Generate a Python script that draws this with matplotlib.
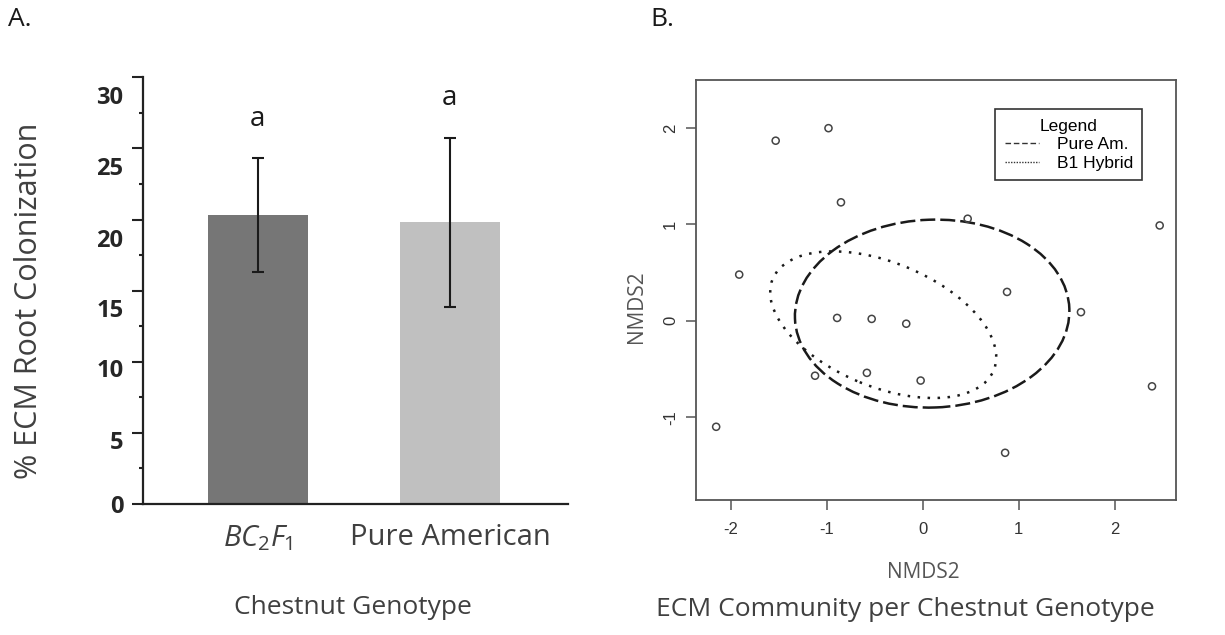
import numpy as np
import matplotlib
matplotlib.use("Agg")
import matplotlib.pyplot as plt
from matplotlib.patches import Ellipse
from matplotlib.lines import Line2D
from matplotlib.transforms import ScaledTranslation

# dati pannello A
genotipi = [r"$BC_2F_1$", "Pure American"]
colonizzazione = [20.3, 19.8]
errore = [4.0, 5.95]
lettere = ["a", "a"]
colori_barre = ["#767676", "#c0c0c0"]

# dati pannello B (NMDS)
nmds_x = [-2.15, -1.91, -1.53, -0.98, -0.85, -0.89, -0.53, -0.17, -1.12, -0.58,
          -0.02, 0.47, 0.88, 0.86, 1.65, 2.47, 2.39]
nmds_y = [-1.10, 0.48, 1.87, 2.00, 1.23, 0.03, 0.02, -0.03, -0.57, -0.54,
          -0.62, 1.06, 0.30, -1.37, 0.09, 0.99, -0.68]
gruppi = ["Pure Am.", "B1 Hybrid"]
ell_centro = [(0.10, 0.075), (-0.41, -0.04)]
ell_larg = [2.86, 2.49]
ell_alt = [1.95, 1.29]
ell_angolo = [2.0, -22.3]

plt.rcParams['font.family'] = ['Open Sans', 'DejaVu Sans']
plt.rcParams['mathtext.fontset'] = 'custom'
plt.rcParams['mathtext.rm'] = 'Open Sans'
plt.rcParams['mathtext.it'] = 'Open Sans:italic'
plt.rcParams['axes.unicode_minus'] = False

W, H = 1225, 635
fig = plt.figure(figsize=(W/100, H/100), dpi=100)

def box(l, t, r, b):
    return [l/W, 1-b/H, (r-l)/W, (b-t)/H]

# ---------------- Pannello A ----------------
axA = fig.add_axes(box(142.7, 77.3, 568, 504))
pos = np.arange(len(genotipi))
axA.bar(pos, colonizzazione, width=0.52, color=colori_barre)
axA.errorbar(pos, colonizzazione, yerr=errore, fmt='none', ecolor='#1a1a1a',
             elinewidth=1.5, capsize=4.5, capthick=1.5)
for i in range(len(genotipi)):
    axA.text(pos[i], colonizzazione[i]+errore[i]+2.8, lettere[i], ha='center', va='center',
             fontsize=20, color='#1a1a1a')

axA.set_xlim(-0.60, 1.615)
axA.set_ylim(0, 30)
axA.set_xticks(pos)
axA.set_xticklabels(genotipi, fontsize=21, color='#404040')
axA.tick_params(axis='x', length=0, pad=14)
axA.set_yticks(np.arange(0, 31, 5))
axA.set_yticks(np.arange(2.5, 30, 5), minor=True)
axA.tick_params(axis='y', which='major', length=8, width=1.5, color='#222222',
                labelsize=17, labelcolor='#262626', pad=6)
axA.tick_params(axis='y', which='minor', length=3, width=1.5, color='#222222')
for lbl in axA.get_yticklabels():
    lbl.set_fontweight('bold')
# etichette spostate verso il basso come nell'originale
spost = [0, 7, 6, 17, 18, 18, 18]
for lbl, s in zip(axA.get_yticklabels(), spost):
    lbl.set_transform(lbl.get_transform() + ScaledTranslation(0, -s/100, fig.dpi_scale_trans))

for s in ['top', 'right']:
    axA.spines[s].set_visible(False)
for s in ['left', 'bottom']:
    axA.spines[s].set_linewidth(1.6)
    axA.spines[s].set_color('#222222')

axA.set_ylabel("% ECM Root Colonization", fontsize=22, color='#404040', va='center')
axA.yaxis.set_label_coords((29-142.7)/425.3, (504-301)/426.7)
axA.set_xlabel("Chestnut Genotype", fontsize=19, color='#404040', va='center')
axA.xaxis.set_label_coords((353-142.7)/425.3, -(607-504)/426.7)

# ---------------- Pannello B ----------------
axB = fig.add_axes(box(696, 80, 1176, 500))
axB.scatter(nmds_x, nmds_y, s=26, facecolors='none', edgecolors='#444444', linewidths=1.1, zorder=3)

stili = [(0, (6, 2)), (0, (1, 3))]
for i in range(len(gruppi)):
    e = Ellipse(ell_centro[i], ell_larg[i], ell_alt[i], angle=ell_angolo[i], fill=False,
                edgecolor='#1a1a1a', linewidth=1.8, linestyle=stili[i])
    axB.add_patch(e)

axB.set_xlim(-2.36, 2.64)
axB.set_ylim(-1.86, 2.50)
axB.set_xticks([-2, -1, 0, 1, 2])
axB.set_yticks([-1, 0, 1, 2])
axB.tick_params(axis='both', length=7, width=1.1, color='#555555', labelsize=12, labelcolor='#333333')
axB.tick_params(axis='x', pad=9)
axB.tick_params(axis='y', pad=6)
for lbl in axB.get_xticklabels() + axB.get_yticklabels():
    lbl.set_family('Liberation Sans')
for lbl in axB.get_yticklabels():
    lbl.set_rotation(90)
    lbl.set_va('center')
for s in axB.spines.values():
    s.set_linewidth(1.3)
    s.set_color('#555555')

maniglie = [Line2D([], [], color='#333333', lw=1.0, linestyle=(0, (4, 2))),
            Line2D([], [], color='#333333', lw=1.0, linestyle=(0, (1, 1)))]
leg = axB.legend(maniglie, gruppi, title="Legend", loc='upper left', bbox_to_anchor=(0.623, 0.931),
                 fancybox=False, framealpha=1, handlelength=2.0,
                 borderpad=0.55, labelspacing=0.2, handletextpad=1.0, borderaxespad=0,
                 prop={'family': 'Liberation Sans', 'size': 12.5})
leg.get_title().set_family('Liberation Sans')
leg.get_title().set_fontsize(12.5)
leg.get_frame().set_edgecolor('#333333')
leg.get_frame().set_linewidth(1.2)

axB.set_xlabel("NMDS2", fontsize=15, color='#555555', va='center')
axB.xaxis.set_label_coords((923-696)/480, -(572-500)/420)
axB.set_ylabel("NMDS2", fontsize=15, color='#555555', va='center')
axB.yaxis.set_label_coords((636-696)/480, (500-307)/420)

fig.text(905/W, 1-610/H, "ECM Community per Chestnut Genotype", fontsize=19, color='#404040',
         ha='center', va='center')
fig.text(8/W, 1-20/H, "A.", fontsize=19, color='#1a1a1a', ha='left', va='center')
fig.text(650/W, 1-20/H, "B.", fontsize=19, color='#1a1a1a', ha='left', va='center')

fig.savefig("out.png", dpi=100)
